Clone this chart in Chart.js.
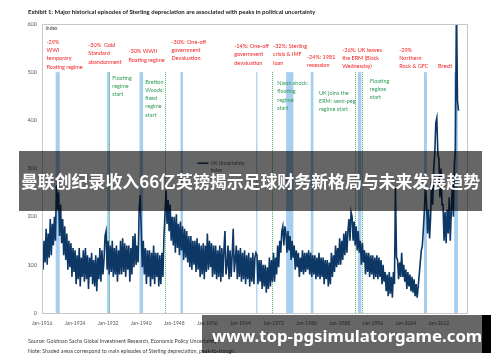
<!DOCTYPE html>
<html>
<head>
<meta charset="utf-8">
<title>UK uncertainty and Sterling depreciation</title>
<script src="https://cdn.jsdelivr.net/npm/chart.js@4.4.1/dist/chart.umd.min.js"></script>
<style>
  body { margin: 0; background: #fff; }
  #wrap { position: relative; width: 500px; height: 362px; overflow: hidden; font-family: Lato, "Liberation Sans", sans-serif; }
  #chart { position: absolute; left: 0; top: 0; }
  .title { position: absolute; left: 28px; top: 8px; font-size: 6px; font-weight: bold; color: #1a1a1a; white-space: nowrap; }
  .src { position: absolute; left: 28px; font-size: 5.3px; color: #404040; white-space: nowrap; }
  .shade { position: absolute; background: rgba(0, 0, 0, 0.6); color: #fff; white-space: nowrap; overflow: hidden; }
  .headline { left: 19px; top: 151px; width: 463px; height: 60px; line-height: 60px; text-align: center; font-family: "Noto Sans CJK SC", sans-serif; font-size: 16.9px; font-weight: bold; }
  .site { left: 202px; top: 315px; width: 280px; height: 38px; line-height: 42px; font-family: "Noto Sans", sans-serif; font-size: 16.8px; font-weight: bold; padding-left: 10px; box-sizing: border-box; }
  .edge { position: absolute; left: 482px; top: 315px; width: 9px; height: 38px; background: #000; }
</style>
</head>
<body>
<div id="wrap">
  <canvas id="chart" width="500" height="362"></canvas>
  <div class="title">Exhibit 1: Major historical episodes of Sterling depreciation are associated with peaks in political uncertainty</div>
  <div class="src" style="top:338px">Source: Goldman Sachs Global Investment Research, Economic Policy Uncertainty</div>
  <div class="src" style="top:348px">Note: Shaded areas correspond to main episodes of Sterling depreciation, peak-to-trough.</div>
  <div class="shade headline">曼联创纪录收入66亿英镑揭示足球财务新格局与未来发展趋势</div>
  <div class="shade site">www.top-pgsimulatorgame.com</div>
  <div class="edge"></div>
</div>
<script>
  "use strict";

  // Quarterly UK uncertainty index, Jan-1916 onwards
  var startYear = 1916;
  var perYear = 4;
  var uncertainty = [
    160, 90, 150, 105,   // 1916
    175, 100, 165, 115,
    195, 120, 185, 140,
    200, 150, 265, 215,
    250, 160, 225, 145,  // 1920
    195, 120, 180, 110,
    165, 90, 150, 95,
    145, 75, 135, 85,
    130, 60, 120, 70,
    135, 55, 115, 75,
    130, 65, 135, 70,
    120, 50, 115, 75,
    125, 60, 110, 55,
    120, 45, 115, 70,
    135, 65, 130, 80,    // 1930
    110, 160, 170, 90,
    150, 80, 140, 85,
    150, 75, 135, 80,
    140, 65, 130, 80,
    150, 80, 155, 85,
    145, 75, 140, 90,
    140, 65, 135, 80,
    160, 95, 165, 100,
    140, 105, 215, 245,
    175, 95, 150, 80,    // 1940
    135, 60, 130, 75,
    130, 55, 125, 70,
    140, 60, 125, 75,
    125, 55, 120, 60,
    125, 75, 160, 205,
    255, 185, 235, 170,
    225, 150, 200, 140,
    200, 125, 205, 135,
    185, 120, 190, 130,
    180, 110, 175, 115,  // 1950
    170, 105, 160, 95,
    160, 90, 150, 100,
    150, 85, 155, 90,
    145, 75, 140, 80,
    145, 70, 140, 85,
    165, 90, 150, 95,
    145, 75, 140, 80,
    140, 70, 130, 75,
    140, 65, 135, 75,
    130, 170, 80, 100,   // 1960
    140, 70, 130, 75,
    120, 175, 85, 110,
    140, 70, 130, 75,
    135, 65, 125, 70,
    130, 60, 120, 70,
    125, 55, 115, 65,
    125, 60, 115, 125,
    120, 60, 110, 65,
    110, 50, 100, 55,
    100, 42, 95, 50,     // 1970
    115, 55, 110, 65,
    125, 65, 115, 80,
    140, 95, 150, 125,
    170, 180, 140, 180,
    165, 125, 170, 130,
    160, 110, 150, 115,
    140, 90, 130, 95,
    125, 75, 115, 85,
    130, 80, 125, 85,
    125, 90, 130, 80,    // 1980
    125, 75, 120, 80,
    120, 70, 115, 75,
    125, 70, 115, 75,
    115, 60, 110, 70,
    110, 55, 105, 60,
    125, 75, 120, 85,
    140, 95, 135, 100,
    155, 100, 150, 110,
    165, 120, 170, 125,
    170, 195, 150, 210,  // 1990
    200, 150, 190, 140,
    180, 130, 170, 125,
    150, 100, 145, 105,
    130, 80, 125, 85,
    125, 75, 120, 80,
    120, 70, 115, 75,
    120, 70, 115, 75,
    110, 60, 100, 65,
    85, 45, 80, 35,
    85, 40, 75, 32,      // 2000
    85, 60, 260, 115,
    110, 70, 105, 75,
    125, 75, 100, 65,
    90, 50, 85, 55,
    80, 45, 75, 42,
    70, 35, 60, 32,
    55, 80, 105, 130,
    140, 175, 215, 260,
    230, 165, 215, 155,
    200, 280, 225, 300,  // 2010
    330, 395, 405, 330,
    320, 240, 300, 225,
    225, 150, 210, 145,
    215, 165, 240, 150,
    210, 265, 200, 310,
    340, 650, 440, 420   // 2016
  ];

  var tickYears = [1916, 1924, 1932, 1940, 1948, 1956, 1964, 1972, 1980, 1988, 1996, 2004, 2012];

  // Depreciation episodes (shaded) and regime changes (dotted)
  var bandStart = [1919.3, 1931.75, 1939.6, 1949.5, 1967.8, 1975.05, 1981.0, 1992.45, 2008.4, 2015.7];
  var bandEnd = [1920.3, 1932.4, 1940.45, 1950.1, 1968.1, 1976.8, 1981.65, 1993.25, 2009.1, 2016.6];
  var regimeYears = [1932.1, 1945.8, 1971.6, 1991.6, 1993.35];

  var redNotes = [
    { year: 1917.1, value: 563, lines: ["-29%", "WWI", "temporary", "floating regime"] },
    { year: 1927.2, value: 556, lines: ["-30%  Gold", "Standard", "abandonment"] },
    { year: 1936.9, value: 543, lines: ["-30% WWII", "floating regime"] },
    { year: 1947.3, value: 563, lines: ["-30%: One-off", "government", "Devaluation"] },
    { year: 1962.5, value: 554, lines: ["-14%: One-off", "government", "devaluation"] },
    { year: 1971.9, value: 554, lines: ["-32%: Sterling", "crisis & IMF", "loan"] },
    { year: 1980.1, value: 531, lines: ["-24%: 1981", "recession"] },
    { year: 1988.6, value: 546, lines: ["-26%: UK leaves", "the ERM (Black", "Wednesday)"] },
    { year: 2002.4, value: 546, lines: ["-29%", "Northern", "Rock & GFC"] },
    { year: 2011.8, value: 513, lines: ["Brexit"] }
  ];
  var greenNotes = [
    { year: 1933.0, value: 488, lines: ["Floating", "regime", "start"] },
    { year: 1941.0, value: 480, lines: ["Bretton", "Woods:", "fixed", "regime", "start"] },
    { year: 1972.9, value: 477, lines: ["Nixon shock:", "floating", "regime", "start"] },
    { year: 1983.0, value: 457, lines: ["UK joins the", "ERM: semi-peg", "regime start"] },
    { year: 1995.3, value: 482, lines: ["Floating", "regime", "start"] }
  ];

  var points = uncertainty.map(function (v, i) {
    return { x: startYear + i / perYear, y: v };
  });

  var font = "Lato, 'Liberation Sans', sans-serif";

  // Shaded episodes and regime lines behind the series
  var bandPlugin = {
    id: "bands",
    beforeDatasetsDraw: function (chart) {
      var c = chart.ctx, xs = chart.scales.x, ys = chart.scales.y;
      var top = ys.getPixelForValue(500), bottom = ys.getPixelForValue(0);
      c.save();
      c.fillStyle = "rgba(150, 198, 236, 0.85)";
      for (var i = 0; i < bandStart.length; i++) {
        var x1 = xs.getPixelForValue(bandStart[i]);
        var x2 = xs.getPixelForValue(bandEnd[i]);
        c.fillRect(x1, top, Math.max(x2 - x1, 1), bottom - top);
      }
      c.strokeStyle = "#4fae6f";
      c.lineWidth = 1;
      c.setLineDash([1, 1]);
      regimeYears.forEach(function (yr) {
        var x = Math.round(xs.getPixelForValue(yr)) + 0.5;
        c.beginPath();
        c.moveTo(x, top);
        c.lineTo(x, bottom);
        c.stroke();
      });
      c.restore();
    }
  };

  // Notes, legend, "Index" label and plot frame
  var notePlugin = {
    id: "notes",
    afterDraw: function (chart) {
      var c = chart.ctx, xs = chart.scales.x, ys = chart.scales.y, a = chart.chartArea;
      c.save();
      c.textBaseline = "middle";
      c.textAlign = "left";
      c.font = "5.5px " + font;
      var draw = function (notes, color) {
        c.fillStyle = color;
        notes.forEach(function (n) {
          var x = xs.getPixelForValue(n.year), y = ys.getPixelForValue(n.value);
          n.lines.forEach(function (t, k) { c.fillText(t, x, y + k * 8.3); });
        });
      };
      draw(redNotes, "#f01e1e");
      draw(greenNotes, "#2f9a55");

      c.fillStyle = "#404040";
      c.font = "5px " + font;
      c.fillText("Index", a.left + 3.5, a.top + 4.5);

      // legend
      var ds = chart.data.datasets[0];
      var lx = xs.getPixelForValue(1953.6), ly = ys.getPixelForValue(311);
      c.strokeStyle = ds.borderColor;
      c.lineWidth = 1.5;
      c.beginPath();
      c.moveTo(lx, ly);
      c.lineTo(lx + 11, ly);
      c.stroke();
      c.fillStyle = "#595959";
      var cut = ds.label.lastIndexOf(" ");
      c.fillText(ds.label.slice(0, cut), lx + 13, ly);
      c.fillText(ds.label.slice(cut + 1), lx + 13, ly + 7.5);

      c.strokeStyle = "#c8c8c8";
      c.lineWidth = 1;
      c.strokeRect(Math.round(a.left) + 0.5, Math.round(a.top) + 0.5, Math.round(a.right - a.left), Math.round(a.bottom - a.top));
      c.restore();
    }
  };

  var ctx = document.getElementById("chart").getContext("2d");
  var myChart = new Chart(ctx, {
    type: "line",
    data: {
      datasets: [
        {
          label: "UK Uncertainty Index",
          data: points,
          borderColor: "#0d3764",
          borderWidth: 1.6,
          pointRadius: 0,
          tension: 0,
        },
      ],
    },
    options: {
      responsive: false,
      animation: false,
      devicePixelRatio: 1,
      layout: { padding: { left: 0, right: 33, top: 24, bottom: 0 } },
      plugins: { legend: { display: false }, tooltip: { enabled: false } },
      scales: {
        x: {
          type: "linear",
          min: 1916,
          max: 2018.8,
          grid: { display: false, drawTicks: false },
          border: { color: "#c8c8c8" },
          afterBuildTicks: function (s) {
            s.ticks = tickYears.map(function (v) { return { value: v }; });
          },
          afterFit: function (s) { s.height = 49; },
          ticks: {
            color: "#595959",
            font: { family: font, size: 5 },
            padding: 7,
            maxRotation: 0,
            autoSkip: false,
            callback: function (v) { return "Jan-" + v; },
          },
        },
        y: {
          min: 0,
          max: 600,
          grid: { display: false, drawTicks: false },
          border: { color: "#c8c8c8" },
          afterFit: function (s) { s.width = 42; },
          ticks: {
            stepSize: 100,
            color: "#595959",
            font: { family: font, size: 5.5 },
            padding: 5,
          },
        },
      },
    },
    plugins: [bandPlugin, notePlugin],
  });
</script>
</body>
</html>
